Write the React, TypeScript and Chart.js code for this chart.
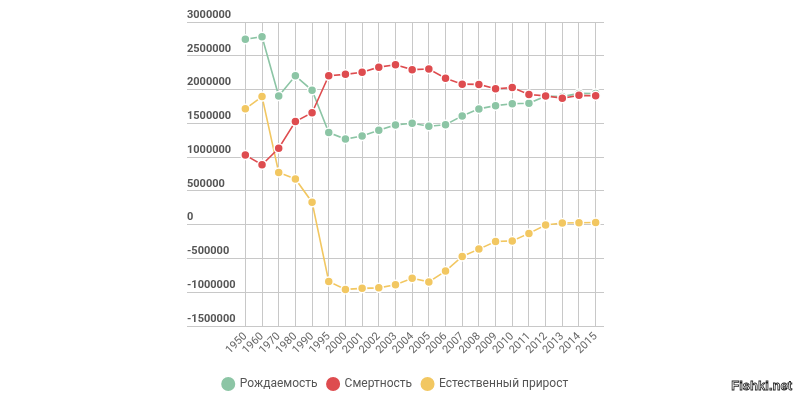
import React, { useEffect, useRef } from "react";
import { Chart, registerables } from "chart.js";

Chart.register(...registerables);

const years = ["1950","1960","1970","1980","1990","1995","2000","2001","2002","2003","2004","2005","2006","2007","2008","2009","2010","2011","2012","2013","2014","2015"];
const births = [2745000,2782000,1904000,2203000,1989000,1364000,1267000,1312000,1397000,1477000,1502000,1457000,1480000,1610000,1714000,1762000,1789000,1797000,1902000,1896000,1943000,1941000];
const deaths = [1030000,886000,1131000,1526000,1656000,2204000,2225000,2255000,2332000,2366000,2295000,2304000,2167000,2080000,2076000,2011000,2029000,1926000,1906000,1872000,1914000,1909000];
const increase = [1715000,1896000,773000,677000,333000,-840000,-958000,-943000,-935000,-889000,-793000,-847000,-687000,-470000,-362000,-249000,-240000,-129000,-4000,24000,29000,32000];
const legendNames = ["Рождаемость", "Смертность", "Естественный прирост"];
const colors = ["#8cc5a5", "#de4c4f", "#f2c761"];

export default function App() {
  const ref = useRef<HTMLCanvasElement>(null);
  useEffect(() => {
    const ds = (label: string, data: number[], color: string, order: number) => ({
      label,
      data,
      order,
      borderColor: color,
      backgroundColor: color,
      pointBackgroundColor: color,
      pointBorderColor: "#ffffff",
      pointBorderWidth: 1.5,
      pointRadius: 4.5,
      borderWidth: 1.6,
      tension: 0,
      fill: false,
    });
    const chart = new Chart(ref.current!, {
      type: "line",
      data: {
        labels: years,
        datasets: [
          ds(legendNames[0], births, colors[0], 1),
          ds(legendNames[1], deaths, colors[1], 0),
          ds(legendNames[2], increase, colors[2], 2),
        ],
      },
      options: {
        animation: false,
        responsive: false,
        layout: { padding: { left: 187, right: 196, top: 22, bottom: 0 } },
        plugins: {
          tooltip: { enabled: false },
          legend: {
            position: "bottom",
            labels: {
              usePointStyle: true,
              pointStyle: "circle",
              boxWidth: 11,
              boxHeight: 11,
              padding: 10,
              color: "#555555",
              font: { family: "Roboto", size: 12 },
              sort: (a: any, b: any) => a.datasetIndex - b.datasetIndex,
            },
          },
        },
        scales: {
          x: {
            offset: true,
            grid: { color: "#c8c8c8", drawTicks: false, lineWidth: 1 },
            border: { display: false },
            ticks: {
              autoSkip: false,
              maxRotation: 45,
              minRotation: 45,
              padding: 4,
              color: "#666666",
              font: { family: "Roboto", size: 11 },
            },
            afterFit: (s: any) => { s.height = 42; },
          },
          y: {
            min: -1500000,
            max: 3000000,
            grid: { color: "#c8c8c8", tickLength: 50, tickColor: "#c8c8c8", lineWidth: 1 },
            border: { display: false },
            ticks: {
              stepSize: 500000,
              crossAlign: "far",
              labelOffset: -7,
              color: "#555555",
              font: { family: "Roboto", size: 11, weight: "bold" },
              callback: (v: any) => String(v),
            },
            afterFit: (s: any) => { s.width = 50; },
          },
        },
      },
    });
    return () => chart.destroy();
  }, []);
  return (
    <div style={{ position: "fixed", left: 0, top: 0, width: 800, height: 400, background: "#fff" }}>
      <canvas ref={ref} width={800} height={400} />
      <div
        style={{
          position: "absolute",
          right: 8,
          top: 378,
          fontFamily: "Liberation Sans, Arial, sans-serif",
          fontWeight: "bold",
          fontSize: 13,
          color: "#ffffff",
          WebkitTextStroke: "0.8px #222",
          letterSpacing: 0,
        }}
      >
        Fishki.net
      </div>
    </div>
  );
}
